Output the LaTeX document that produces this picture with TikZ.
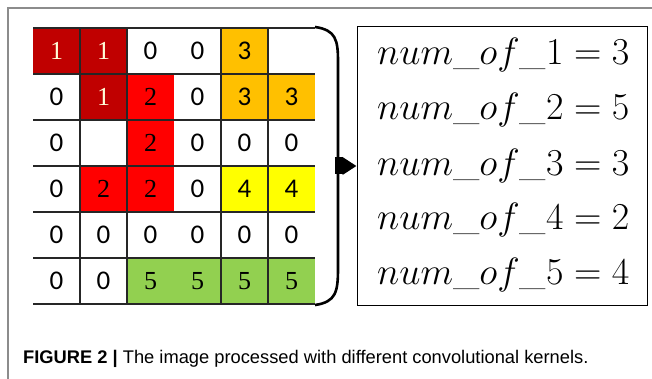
\RequirePackage{fix-cm}
\documentclass[tikz,border=0pt]{standalone}
\usepackage{fontspec}
\usetikzlibrary{arrows.meta}
\newfontfamily\calibrifont{Carlito}
\newfontfamily\cambriafont{Liberation Serif}
\newfontfamily\captionfont{Liberation Sans}
\definecolor{onecol}{HTML}{C00000}
\definecolor{twocol}{HTML}{FF0000}
\definecolor{threecol}{HTML}{FFC000}
\definecolor{fourcol}{HTML}{FFFF00}
\definecolor{fivecol}{HTML}{92D050}
\definecolor{framegray}{HTML}{8C8C8C}
\tikzset{
	cell/.style={minimum width=47pt, minimum height=46pt, inner sep=0pt, font=\fontsize{27}{27}\calibrifont},
	valzero/.style={cell},
	valone/.style={cell, fill=onecol, text=white!85!yellow, font=\fontsize{26}{26}\cambriafont},
	valtwo/.style={cell, fill=twocol, font=\fontsize{26}{26}\cambriafont},
	valthree/.style={cell, fill=threecol},
	valfour/.style={cell, fill=fourcol},
	valfive/.style={cell, fill=fivecol, font=\fontsize{26}{26}\cambriafont},
	gridline/.style={black!85, line width=1.2pt}
}
\begin{document}
\begin{tikzpicture}
	[
	x=1pt, y=-1pt, >=latex
	%Pixel als Einheit, y nach unten
	]
	\useasboundingbox (0,0) rectangle (652,379);
	
	%Rahmen
	\draw[framegray, line width=1.5pt] (652,8) -- (8,8) -- (8,379);
	
	%Zellen
	\foreach \c/\r/\s/\t in {
		1/1/valone/1, 2/1/valone/1, 3/1/valzero/0, 4/1/valzero/0, 5/1/valthree/3, 6/1/valzero/{},
		1/2/valzero/0, 2/2/valone/1, 3/2/valtwo/2, 4/2/valzero/0, 5/2/valthree/3, 6/2/valthree/3,
		1/3/valzero/0, 2/3/valzero/{}, 3/3/valtwo/2, 4/3/valzero/0, 5/3/valzero/0, 6/3/valzero/0,
		1/4/valzero/0, 2/4/valtwo/2, 3/4/valtwo/2, 4/4/valzero/0, 5/4/valfour/4, 6/4/valfour/4,
		1/5/valzero/0, 2/5/valzero/0, 3/5/valzero/0, 4/5/valzero/0, 5/5/valzero/0, 6/5/valzero/0,
		1/6/valzero/0, 2/6/valzero/0, 3/6/valfive/5, 4/6/valfive/5, 5/6/valfive/5, 6/6/valfive/5}
		\node[\s] (cell\r\c) at ({9.5+47*\c},{5+46*\r}) {\t};
	
	%Gitterlinien
	\foreach \y in {28,74,120,166,212,258,304}
		\draw[gridline] (33,\y) -- (315,\y);
	\foreach \x in {80,127,221,268}
		\draw[gridline] (\x,28) -- (\x,304);
	
	%Klammer
	\draw[line width=2.6pt] (315,27) .. controls (336,30) and (338,40) .. (338,62) -- (338,268) .. controls (338,292) and (336,302) .. (315,305);
	\coordinate (bracemid) at (335,166);
	
	%Ergebnisse
	\node[draw, line width=1pt, minimum width=290pt, minimum height=278pt, inner sep=0pt] (counts) at (502,166) {};
	\foreach \k/\n/\y in {1/3/55, 2/5/110, 3/3/166, 4/2/220, 5/4/275}
		\node[anchor=west, inner sep=0pt, font=\fontsize{38}{38}\selectfont] (count\k) at (377,\y) {$num\_of\_\k = \n$};
	
	%Pfeil
	\draw[line width=17pt, -{Triangle[length=14pt, width=17pt]}] (bracemid) -- (counts.west);
	
	%Bildunterschrift
	\node[anchor=base west, inner sep=0pt, font=\fontsize{18.3}{18.3}\captionfont] (caption) at (23,363) {\textbf{FIGURE 2} \textbf{|} The image processed with different convolutional kernels.};
\end{tikzpicture}
\end{document}
